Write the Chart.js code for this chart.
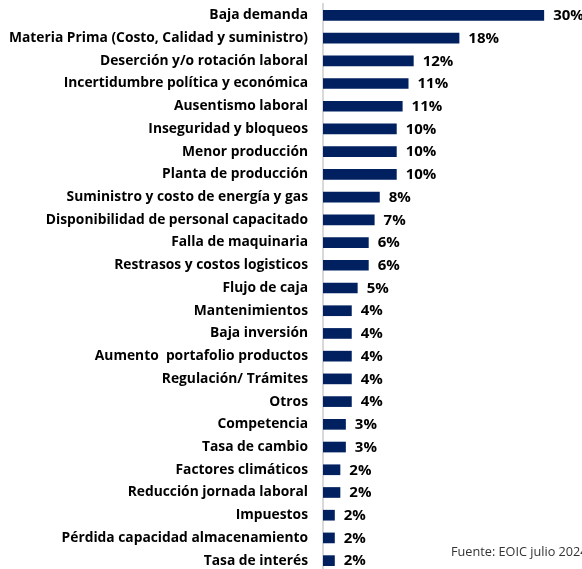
<!DOCTYPE html>
<html>
<head>
<meta charset="utf-8">
<script src="https://cdn.jsdelivr.net/npm/chart.js@4.4.1/dist/chart.umd.min.js"></script>
<style>
  html, body { margin: 0; padding: 0; background: #fff; overflow: hidden; }
  #wrap { position: relative; width: 582px; height: 572px; }
  #fuente { position: absolute; left: 451px; top: 542px; font: 12.7px "Open Sans", sans-serif; color: #333; white-space: nowrap; }
</style>
</head>
<body>
<div id="wrap">
  <canvas id="barChart"></canvas>
  <div id="fuente">Fuente: EOIC julio 2024</div>
</div>
<script>
// categorias y valores
var categorias = [
    "Baja demanda",
    "Materia Prima (Costo, Calidad y suministro)",
    "Deserción y/o rotación laboral",
    "Incertidumbre política y económica",
    "Ausentismo laboral",
    "Inseguridad y bloqueos",
    "Menor producción",
    "Planta de producción",
    "Suministro y costo de energía y gas",
    "Disponibilidad de personal capacitado",
    "Falla de maquinaria",
    "Restrasos y costos logisticos",
    "Flujo de caja",
    "Mantenimientos",
    "Baja inversión",
    "Aumento  portafolio productos",
    "Regulación/ Trámites",
    "Otros",
    "Competencia",
    "Tasa de cambio",
    "Factores climáticos",
    "Reducción jornada laboral",
    "Impuestos",
    "Pérdida capacidad almacenamiento",
    "Tasa de interés"
];
var valores = [30, 18.5, 12.3, 11.6, 10.8, 10, 10, 10, 7.7, 7.0, 6.2, 6.2, 4.7, 3.9, 3.9, 3.9, 3.9, 3.9, 3.1, 3.1, 2.35, 2.35, 1.6, 1.6, 1.6];
var etiquetas = ["30%", "18%", "12%", "11%", "11%", "10%", "10%", "10%", "8%", "7%", "6%", "6%", "5%", "4%", "4%", "4%", "4%", "4%", "3%", "3%", "2%", "2%", "2%", "2%", "2%"];

// etiquetas de valor al final de cada barra
var valueLabels = {
    id: 'valueLabels',
    afterDatasetsDraw: function (chart) {
        var ctx = chart.ctx;
        var meta = chart.getDatasetMeta(0);
        ctx.save();
        ctx.font = 'bold 15px "Open Sans", sans-serif';
        ctx.fillStyle = '#000';
        ctx.textBaseline = 'middle';
        ctx.textAlign = 'left';
        meta.data.forEach(function (bar, i) {
            ctx.fillText(etiquetas[i], bar.x + 9, bar.y + 0.5);
        });
        ctx.restore();
    }
};

var ctx = document.getElementById('barChart');
var barChart = new Chart(ctx, {
    type: 'bar',
    data: {
        labels: categorias,
        datasets: [{
            data: valores,
            backgroundColor: '#002060',
            borderWidth: 0,
            barPercentage: 0.94,
            categoryPercentage: 0.5
        }]
    },
    options: {
        indexAxis: 'y',
        responsive: true,
        maintainAspectRatio: false,
        animation: false,
        layout: { padding: { top: 4, right: 1, left: 0, bottom: 0 } },
        plugins: {
            legend: { display: false },
            tooltip: { enabled: false }
        },
        scales: {
            x: {
                display: false,
                min: 0,
                max: 35
            },
            y: {
                // ancho fijo del eje y sin relleno extra arriba/abajo
                afterFit: function (scale) {
                    scale.width = 323;
                    scale.paddingTop = 0;
                    scale.paddingBottom = 0;
                },
                grid: { display: false, drawTicks: false },
                border: { display: true, color: '#d9d9d9', width: 2 },
                ticks: {
                    padding: 15,
                    color: '#000',
                    font: { family: 'Open Sans', weight: 'bold', size: 13.8 }
                }
            }
        }
    },
    plugins: [valueLabels]
});
</script>
</body>
</html>
